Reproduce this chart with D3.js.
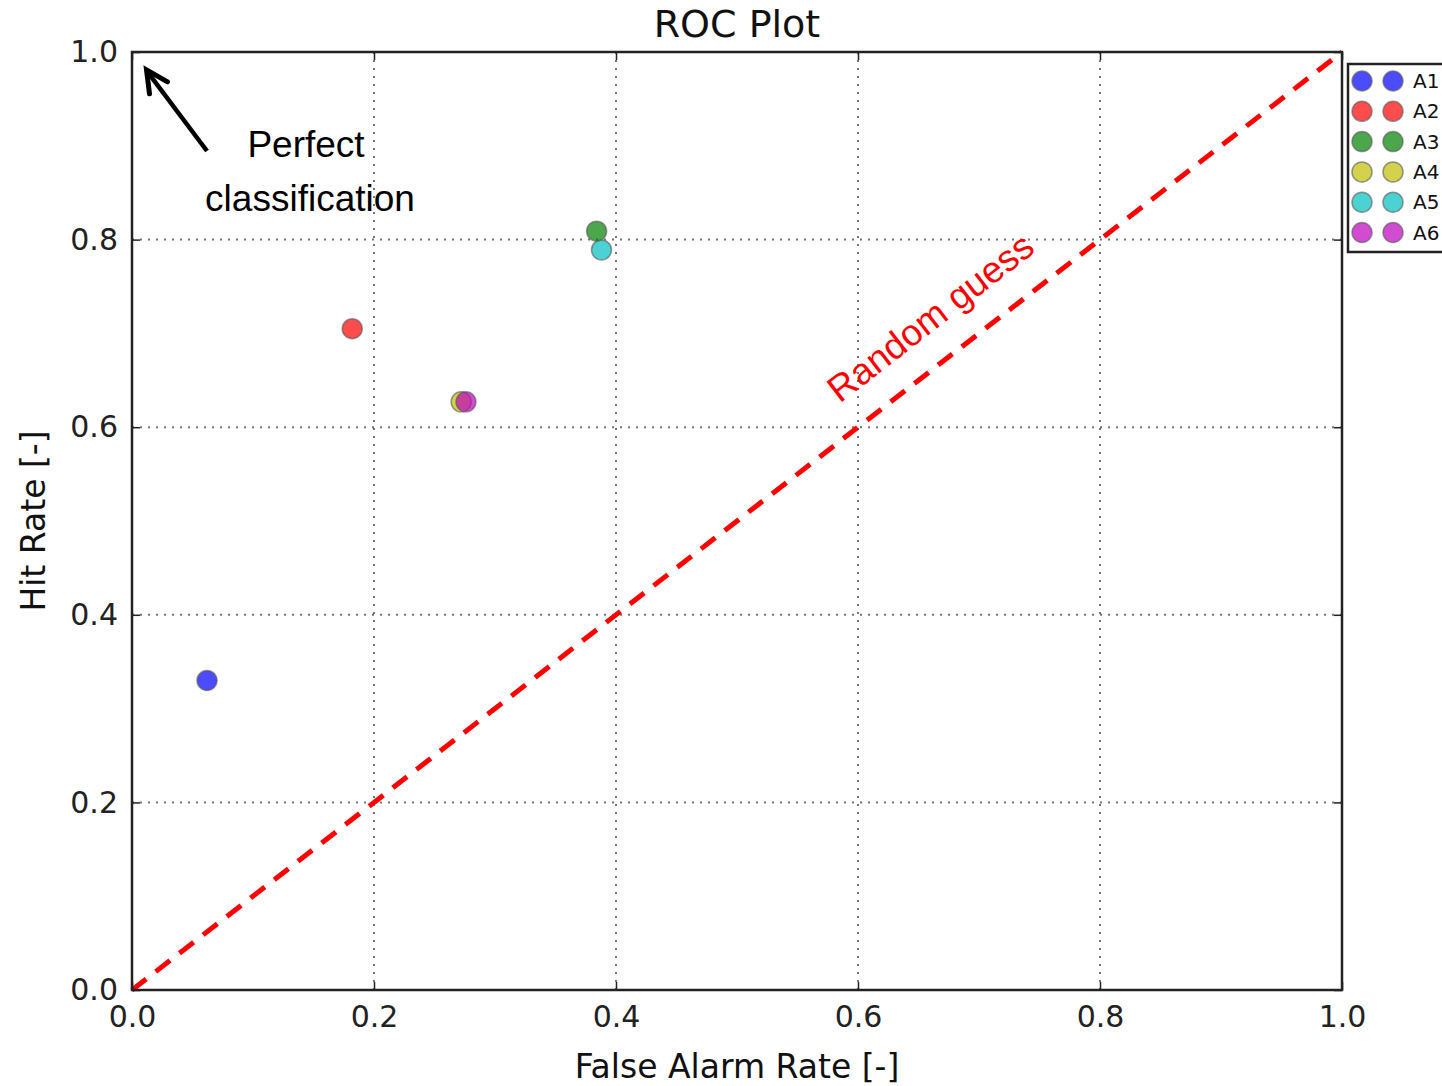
<!DOCTYPE html>
<html><head><meta charset="utf-8">
<script src="https://cdn.jsdelivr.net/npm/d3@7/dist/d3.min.js"></script>
<style>body{margin:0;background:#fff;} svg{display:block;}</style>
</head><body>
<script>
const series = ["A1","A2","A3","A4","A5","A6"];
const falseAlarm = [0.062, 0.182, 0.384, 0.272, 0.388, 0.276];
const hitRate = [0.330, 0.705, 0.809, 0.627, 0.789, 0.627];
const colors = ["#0000ff","#ff0000","#008000","#bfbf00","#00bfbf","#bf00bf"];
const ticks = [0.0, 0.2, 0.4, 0.6, 0.8, 1.0];

const W = 1442, H = 1086;
const m = {l:132, r:1342, t:52, b:990};
const svg = d3.select("body").append("svg").attr("width", W).attr("height", H);
const x = d3.scaleLinear().domain([0,1]).range([m.l, m.r]);
const y = d3.scaleLinear().domain([0,1]).range([m.b, m.t]);
const font = "DejaVu Sans";

// grid
const g = svg.append("g");
ticks.slice(1,-1).forEach(t => {
  g.append("line").attr("x1", x(t)).attr("x2", x(t)).attr("y1", m.t).attr("y2", m.b)
   .attr("stroke", "#000").attr("stroke-opacity", 0.55).attr("stroke-width", 2).attr("stroke-dasharray", "2,6");
  g.append("line").attr("y1", y(t)).attr("y2", y(t)).attr("x1", m.l).attr("x2", m.r)
   .attr("stroke", "#000").attr("stroke-opacity", 0.55).attr("stroke-width", 2).attr("stroke-dasharray", "2,6");
});

// diagonal
svg.append("line").attr("x1", x(0)).attr("y1", y(0)).attr("x2", x(1)).attr("y2", y(1))
  .attr("stroke", "#ff0000").attr("stroke-width", 5).attr("stroke-dasharray", "18,12");

// axes
const axB = d3.axisBottom(x).tickValues(ticks).tickFormat(d3.format(".1f")).tickSizeInner(-8).tickSizeOuter(0).tickPadding(14);
const axL = d3.axisLeft(y).tickValues(ticks).tickFormat(d3.format(".1f")).tickSizeInner(-8).tickSizeOuter(0).tickPadding(14);
const axT = d3.axisTop(x).tickValues(ticks).tickFormat("").tickSizeInner(-8).tickSizeOuter(0);
const axR = d3.axisRight(y).tickValues(ticks).tickFormat("").tickSizeInner(-8).tickSizeOuter(0);
function style(sel){
  sel.select(".domain").remove();
  sel.selectAll("line").attr("stroke", "#222").attr("stroke-width", 1.5);
  sel.selectAll("text").attr("font-family", font).attr("font-size", 30).attr("fill", "#222");
}
svg.append("g").attr("transform", `translate(0,${m.b})`).call(axB).call(style).selectAll("text").attr("dy","0.75em");
svg.append("g").attr("transform", `translate(${m.l},0)`).call(axL).call(style);
svg.append("g").attr("transform", `translate(0,${m.t})`).call(axT).call(style);
svg.append("g").attr("transform", `translate(${m.r},0)`).call(axR).call(style);
svg.append("rect").attr("x", m.l).attr("y", m.t).attr("width", m.r-m.l).attr("height", m.b-m.t)
  .attr("fill", "none").attr("stroke", "#222").attr("stroke-width", 2.5);

// points
svg.append("g").selectAll("circle").data(series).join("circle")
  .attr("cx", (d,i) => x(falseAlarm[i])).attr("cy", (d,i) => y(hitRate[i])).attr("r", 10)
  .attr("fill", (d,i) => colors[i]).attr("fill-opacity", 0.7)
  .attr("stroke", "#555").attr("stroke-opacity", 0.6).attr("stroke-width", 1.5);

// title & labels
svg.append("text").attr("x", 737).attr("y", 37).attr("text-anchor","middle")
  .attr("font-family", font).attr("font-size", 38).attr("fill","#111").text("ROC Plot");
svg.append("text").attr("x", 737).attr("y", 1078).attr("text-anchor","middle")
  .attr("font-family", font).attr("font-size", 33).attr("fill","#111").text("False Alarm Rate [-]");
svg.append("text").attr("transform", `translate(45,${(m.t+m.b)/2}) rotate(-90)`).attr("text-anchor","middle")
  .attr("font-family", font).attr("font-size", 33).attr("fill","#111").text("Hit Rate [-]");

// annotation arrow
const tip = [x(0.012), y(0.981)];
svg.append("line").attr("x1", 207).attr("y1", 151).attr("x2", tip[0]+1).attr("y2", tip[1]+2)
  .attr("stroke","#000").attr("stroke-width",4.5);
svg.append("path").attr("d", `M${tip[0]+3},${tip[1]+24} L${tip[0]},${tip[1]} L${tip[0]+21},${tip[1]+12}`)
  .attr("fill","none").attr("stroke","#000").attr("stroke-width",5).attr("stroke-linecap","round").attr("stroke-linejoin","miter");
svg.append("text").attr("x", 306).attr("y", 157).attr("text-anchor","middle")
  .attr("font-family","Liberation Sans").attr("font-size",37).attr("fill","#000").text("Perfect");
svg.append("text").attr("x", 310).attr("y", 211).attr("text-anchor","middle")
  .attr("font-family","Liberation Sans").attr("font-size",37).attr("fill","#000").text("classification");
const ang = Math.atan2(m.b-m.t, m.r-m.l)*180/Math.PI;
svg.append("text").attr("transform", `translate(${x(0.585)},${y(0.625)}) rotate(${-ang})`)
  .attr("font-family","Liberation Sans").attr("font-size",37).attr("fill","#ff0000").text("Random guess");

// legend
const lg = svg.append("g");
lg.append("rect").attr("x",1348).attr("y",64).attr("width",110).attr("height",188)
  .attr("fill","#fff").attr("stroke","#222").attr("stroke-width",2.5);
series.forEach((s,i) => {
  const cy = 81 + i*30.3;
  [1362,1393].forEach(cx => lg.append("circle").attr("cx",cx).attr("cy",cy).attr("r",10)
    .attr("fill",colors[i]).attr("fill-opacity",0.7).attr("stroke","#555").attr("stroke-opacity",0.6).attr("stroke-width",1.5));
  lg.append("text").attr("x",1413).attr("y",cy+7).attr("font-family",font).attr("font-size",20).attr("fill","#111").text(s);
});
</script>
</body></html>
